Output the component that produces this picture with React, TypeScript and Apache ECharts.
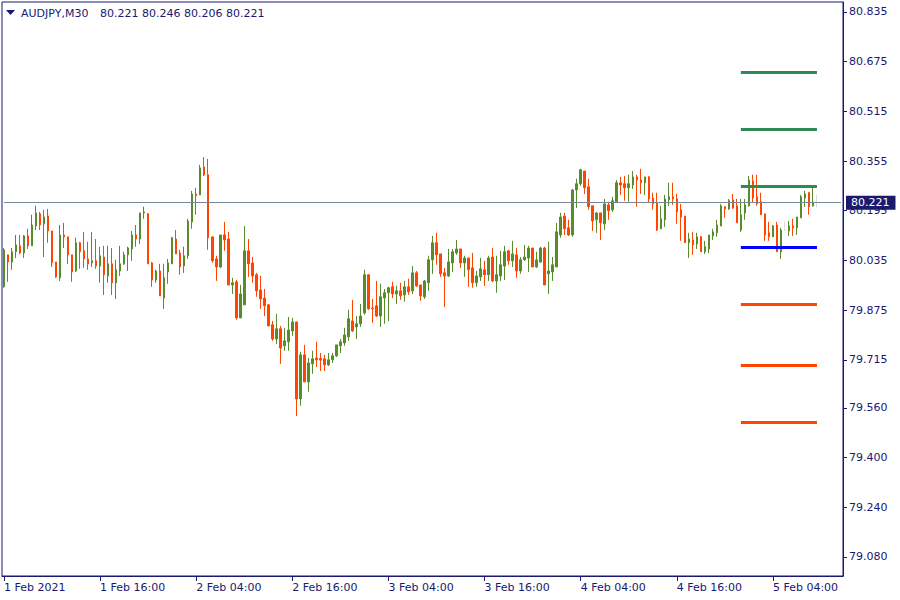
import React, { useEffect, useRef } from "react";
import * as echarts from "echarts";

const symbolName = "AUDJPY,M30";
const startTimeUtc = Date.UTC(2021, 1, 1, 4, 0);
const barMinutes = 30;
const totalSlots = 210;
const monthNames = ["Jan", "Feb", "Mar", "Apr", "May", "Jun", "Jul", "Aug", "Sep", "Oct", "Nov", "Dec"];

const opens = [
  79.950, 80.053, 80.030, 80.063, 80.082, 80.059, 80.114, 80.082, 80.146, 80.185,
  80.153, 80.178, 80.130, 80.030, 79.979, 80.117, 80.111, 80.053, 80.001, 80.092,
  80.066, 80.040, 80.027, 80.034, 80.017, 80.046, 79.985, 80.024, 79.963, 80.001,
  80.024, 80.053, 80.072, 80.117, 80.104, 80.188, 80.185, 80.027, 79.972, 80.001,
  79.914, 79.998, 80.024, 80.104, 80.059, 80.017, 80.050, 80.159, 80.249, 80.246,
  80.336, 80.311, 80.111, 80.040, 80.014, 80.117, 80.104, 79.956, 79.966, 79.850,
  79.892, 80.066, 80.027, 79.989, 79.940, 79.914, 79.892, 79.828, 79.782, 79.815,
  79.760, 79.773, 79.808, 79.837, 79.589, 79.731, 79.644, 79.702, 79.721, 79.719,
  79.718, 79.699, 79.715, 79.728, 79.760, 79.769, 79.789, 79.840, 79.821, 79.831,
  79.866, 79.989, 79.882, 79.889, 79.856, 79.914, 79.931, 79.950, 79.927, 79.937,
  79.924, 79.950, 79.937, 79.995, 79.956, 79.918, 79.963, 80.037, 80.092, 80.056,
  79.995, 79.985, 80.027, 80.059, 80.072, 80.027, 80.043, 80.011, 79.963, 79.982,
  80.005, 79.989, 80.046, 79.969, 79.985, 80.017, 80.066, 80.034, 80.053, 80.001,
  80.037, 80.043, 80.075, 80.014, 80.030, 80.075, 79.992, 79.998, 80.014, 80.117,
  80.178, 80.140, 80.117, 80.262, 80.282, 80.323, 80.272, 80.211, 80.166, 80.188,
  80.153, 80.214, 80.198, 80.224, 80.285, 80.282, 80.269, 80.278, 80.304, 80.294,
  80.285, 80.304, 80.236, 80.220, 80.137, 80.166, 80.230, 80.240, 80.233, 80.198,
  80.178, 80.092, 80.101, 80.088, 80.111, 80.063, 80.072, 80.114, 80.124, 80.146,
  80.208, 80.201, 80.230, 80.211, 80.133, 80.188, 80.211, 80.291, 80.240, 80.224,
  80.185, 80.124, 80.111, 80.149, 80.063, 80.133, 80.130, 80.146, 80.140, 80.172,
  80.236, 80.253, 80.211, 80.221,
];

const highs = [
  80.075, 80.053, 80.075, 80.117, 80.117, 80.117, 80.137, 80.182, 80.211, 80.191,
  80.198, 80.201, 80.130, 80.030, 80.149, 80.156, 80.111, 80.053, 80.108, 80.095,
  80.127, 80.095, 80.127, 80.104, 80.079, 80.082, 80.082, 80.075, 80.037, 80.082,
  80.063, 80.079, 80.130, 80.149, 80.188, 80.208, 80.188, 80.030, 80.005, 80.024,
  80.024, 80.040, 80.111, 80.133, 80.069, 80.079, 80.169, 80.259, 80.269, 80.343,
  80.368, 80.362, 80.111, 80.050, 80.117, 80.159, 80.127, 79.979, 79.972, 79.956,
  80.146, 80.104, 80.046, 79.995, 79.985, 79.943, 79.895, 79.840, 79.863, 79.824,
  79.818, 79.853, 79.850, 79.837, 79.741, 79.763, 79.721, 79.744, 79.773, 79.737,
  79.731, 79.737, 79.737, 79.763, 79.782, 79.818, 79.876, 79.908, 79.856, 79.895,
  80.005, 79.989, 79.911, 79.969, 79.960, 79.943, 79.950, 79.966, 79.953, 79.963,
  79.969, 79.976, 80.017, 80.001, 79.956, 79.972, 80.050, 80.114, 80.124, 80.056,
  80.011, 80.072, 80.072, 80.101, 80.072, 80.050, 80.043, 80.059, 80.001, 80.043,
  80.034, 80.050, 80.075, 80.050, 80.066, 80.082, 80.069, 80.098, 80.075, 80.046,
  80.085, 80.082, 80.075, 80.063, 80.079, 80.079, 80.095, 80.046, 80.156, 80.188,
  80.188, 80.166, 80.265, 80.298, 80.330, 80.323, 80.298, 80.211, 80.191, 80.188,
  80.233, 80.224, 80.240, 80.294, 80.304, 80.307, 80.311, 80.323, 80.311, 80.330,
  80.304, 80.307, 80.253, 80.253, 80.211, 80.246, 80.285, 80.285, 80.249, 80.217,
  80.178, 80.124, 80.127, 80.124, 80.114, 80.098, 80.117, 80.137, 80.166, 80.217,
  80.208, 80.233, 80.249, 80.233, 80.233, 80.233, 80.307, 80.311, 80.311, 80.253,
  80.185, 80.159, 80.149, 80.159, 80.140, 80.162, 80.162, 80.169, 80.175, 80.246,
  80.259, 80.256, 80.269, 80.246,
];

const lows = [
  79.947, 79.966, 80.005, 80.043, 80.056, 80.043, 80.072, 80.082, 80.133, 80.133,
  80.046, 80.092, 80.014, 79.979, 79.969, 80.075, 80.024, 79.966, 79.998, 80.008,
  80.011, 80.005, 80.014, 80.008, 79.963, 79.924, 79.963, 79.924, 79.911, 79.985,
  80.021, 80.001, 80.034, 80.079, 80.088, 80.169, 80.024, 79.950, 79.963, 79.921,
  79.879, 79.960, 80.024, 80.056, 79.989, 79.995, 80.040, 80.137, 80.182, 80.246,
  80.307, 80.069, 80.027, 79.969, 80.011, 80.066, 79.956, 79.927, 79.844, 79.850,
  79.892, 79.982, 79.963, 79.918, 79.879, 79.856, 79.824, 79.776, 79.766, 79.702,
  79.744, 79.744, 79.792, 79.534, 79.567, 79.644, 79.612, 79.670, 79.692, 79.679,
  79.679, 79.695, 79.705, 79.724, 79.737, 79.760, 79.776, 79.805, 79.782, 79.821,
  79.860, 79.876, 79.834, 79.853, 79.821, 79.831, 79.840, 79.914, 79.895, 79.908,
  79.902, 79.924, 79.927, 79.950, 79.905, 79.911, 79.937, 79.992, 80.021, 79.982,
  79.885, 79.982, 79.998, 80.053, 80.011, 79.982, 79.950, 79.947, 79.950, 79.969,
  79.953, 79.969, 79.966, 79.931, 79.969, 79.972, 80.021, 80.014, 79.979, 79.992,
  80.034, 79.998, 80.014, 80.011, 80.027, 79.956, 79.927, 79.969, 80.014, 80.108,
  80.117, 80.114, 80.111, 80.204, 80.275, 80.249, 80.198, 80.130, 80.124, 80.101,
  80.133, 80.166, 80.191, 80.224, 80.246, 80.227, 80.224, 80.265, 80.208, 80.249,
  80.246, 80.220, 80.198, 80.130, 80.137, 80.143, 80.211, 80.214, 80.153, 80.098,
  80.092, 80.043, 80.053, 80.072, 80.063, 80.056, 80.059, 80.101, 80.111, 80.146,
  80.172, 80.198, 80.201, 80.156, 80.127, 80.166, 80.208, 80.220, 80.211, 80.182,
  80.098, 80.098, 80.111, 80.063, 80.040, 80.130, 80.114, 80.114, 80.117, 80.172,
  80.208, 80.182, 80.208, 80.206,
];

const closes = [
  80.069, 80.030, 80.063, 80.085, 80.059, 80.114, 80.082, 80.149, 80.188, 80.149,
  80.175, 80.130, 80.027, 79.982, 80.117, 80.111, 80.053, 79.998, 80.092, 80.063,
  80.040, 80.024, 80.034, 80.017, 80.050, 79.989, 80.024, 79.963, 80.005, 80.024,
  80.053, 80.075, 80.117, 80.104, 80.188, 80.191, 80.024, 79.972, 80.001, 79.921,
  79.979, 80.027, 80.108, 80.056, 80.014, 80.050, 80.162, 80.249, 80.243, 80.333,
  80.311, 80.108, 80.034, 80.014, 80.117, 80.101, 79.956, 79.963, 79.850, 79.927,
  80.066, 80.024, 79.985, 79.937, 79.911, 79.889, 79.824, 79.782, 79.815, 79.753,
  79.776, 79.811, 79.837, 79.589, 79.731, 79.644, 79.705, 79.718, 79.715, 79.714,
  79.699, 79.715, 79.728, 79.763, 79.773, 79.795, 79.847, 79.808, 79.831, 79.856,
  79.989, 79.879, 79.879, 79.856, 79.918, 79.931, 79.947, 79.927, 79.937, 79.921,
  79.950, 79.934, 79.995, 79.953, 79.921, 79.969, 80.037, 80.092, 80.053, 79.992,
  79.985, 80.030, 80.063, 80.072, 80.027, 80.043, 80.005, 79.963, 79.985, 80.008,
  79.989, 80.043, 79.969, 79.989, 80.021, 80.063, 80.034, 80.056, 80.001, 80.037,
  80.046, 80.075, 80.014, 80.037, 80.075, 79.956, 80.001, 80.021, 80.127, 80.175,
  80.137, 80.117, 80.262, 80.282, 80.327, 80.269, 80.208, 80.162, 80.188, 80.156,
  80.217, 80.195, 80.227, 80.285, 80.278, 80.269, 80.282, 80.304, 80.294, 80.285,
  80.304, 80.233, 80.217, 80.133, 80.169, 80.233, 80.240, 80.233, 80.191, 80.175,
  80.092, 80.104, 80.085, 80.111, 80.063, 80.079, 80.117, 80.127, 80.149, 80.211,
  80.201, 80.227, 80.204, 80.156, 80.182, 80.214, 80.294, 80.236, 80.217, 80.182,
  80.117, 80.111, 80.146, 80.063, 80.133, 80.133, 80.146, 80.140, 80.175, 80.240,
  80.249, 80.208, 80.221, 80.221,
];

const yTickValues = [79.08, 79.24, 79.4, 79.56, 79.715, 79.875, 80.035, 80.195, 80.355, 80.515, 80.675, 80.835];
const yMin = 79.0188;
const yMax = 80.8672;

const pivotNames = ["R3", "R2", "R1", "P", "S1", "S2", "S3"];
const pivotValues = [80.642, 80.459, 80.275, 80.079, 79.895, 79.699, 79.515];
const pivotStartBar = 184;

const NAVY = "#191970";
const UP = "#568C2C";
const DOWN = "#FF4500";
const PRICE_LINE = "#778899";
const FONT = "DejaVu Sans";

function pivotColor(name: string) {
  if (name.startsWith("R")) return "#2E8B57";
  if (name.startsWith("S")) return "#FF4500";
  return "#0000FF";
}

export default function App() {
  const ref = useRef<HTMLDivElement>(null);
  useEffect(() => {
    if (!ref.current) return;
    const chart = echarts.init(ref.current, null, { renderer: "svg" });
    const times: string[] = [];
    for (let i = 0; i < totalSlots; i++) {
      const d = new Date(startTimeUtc + i * barMinutes * 60000);
      const hh = String(d.getUTCHours()).padStart(2, "0");
      const mm = String(d.getUTCMinutes()).padStart(2, "0");
      times.push(`${d.getUTCFullYear()}|${d.getUTCDate()}|${monthNames[d.getUTCMonth()]}|${hh}:${mm}`);
    }
    const fmtTime = (v: string, idx: number) => {
      const [y, day, mon, hm] = v.split("|");
      return idx === 0 ? `${day} ${mon} ${y}` : `${day} ${mon} ${hm}`;
    };
    const n = opens.length;
    const data = opens.map((o, i) => [o, closes[i], lows[i], highs[i]]);
    const last = n - 1;
    const lastClose = closes[last];

    const pivotLines = pivotValues.map((v, i) => [
      {
        coord: [times[pivotStartBar], v],
        lineStyle: { color: pivotColor(pivotNames[i]), width: 3, type: "solid" },
        label: { show: false },
      },
      { coord: [times[last], v] },
    ]);

    const priceLine = [
      {
        coord: [times[0], lastClose],
        lineStyle: { color: PRICE_LINE, width: 1, type: "solid", opacity: 1 },
        label: {
          show: true,
          position: "end",
          distance: 5,
          formatter: lastClose.toFixed(3),
          color: "#ffffff",
          backgroundColor: NAVY,
          padding: [2, 6, 1, 5],
          fontFamily: FONT,
          fontSize: 11,
        },
      },
      { coord: [times[totalSlots - 1], lastClose] },
    ];

    chart.setOption({
      animation: false,
      backgroundColor: "#ffffff",
      grid: { left: 2, right: 57, top: 2, bottom: 24, show: true, borderColor: NAVY, borderWidth: 1, backgroundColor: "transparent" },
      xAxis: {
        type: "category",
        data: times,
        boundaryGap: true,
        axisLine: { show: true, lineStyle: { color: NAVY, width: 1 } },
        axisTick: { show: true, alignWithLabel: true, interval: 23, length: 5, lineStyle: { color: NAVY } },
        axisLabel: {
          interval: 23,
          align: "left",
          formatter: fmtTime,
          color: NAVY,
          fontFamily: FONT,
          fontSize: 11,
          margin: 6,
        },
        splitLine: { show: false },
      },
      yAxis: {
        type: "value",
        position: "right",
        min: yMin,
        max: yMax,
        axisLine: { show: true, lineStyle: { color: NAVY, width: 1 } },
        axisTick: { show: true, inside: false, length: 4, customValues: yTickValues, lineStyle: { color: NAVY } },
        axisLabel: {
          customValues: yTickValues,
          formatter: (v: number) => v.toFixed(3),
          color: NAVY,
          fontFamily: FONT,
          fontSize: 11,
          margin: 6,
        },
        splitLine: { show: false },
      },
      graphic: [
        { type: "polygon", shape: { points: [[6, 10], [15, 10], [10.5, 15]] }, style: { fill: NAVY } },
        { type: "text", x: 21, y: 13, style: { text: symbolName, fill: NAVY, font: `11px ${FONT}`, verticalAlign: "middle" } },
        {
          type: "text",
          x: 100,
          y: 13,
          style: {
            text: [opens[last], highs[last], lows[last], closes[last]].map((v) => v.toFixed(3)).join(" "),
            fill: NAVY,
            font: `11px ${FONT}`,
            verticalAlign: "middle",
          },
        },
      ],
      series: [
        {
          type: "candlestick",
          data,
          barWidth: 2,
          itemStyle: {
            color: UP,
            color0: DOWN,
            borderColor: UP,
            borderColor0: DOWN,
            borderColorDoji: "#DCDCDC",
            borderWidth: 1,
          },
          markLine: {
            silent: true,
            symbol: ["none", "none"],
            animation: false,
            data: [priceLine, ...pivotLines],
          },
        },
      ],
    });
    return () => chart.dispose();
  }, []);
  return <div ref={ref} style={{ position: "fixed", left: 0, top: 0, width: 900, height: 600, background: "#fff" }} />;
}
